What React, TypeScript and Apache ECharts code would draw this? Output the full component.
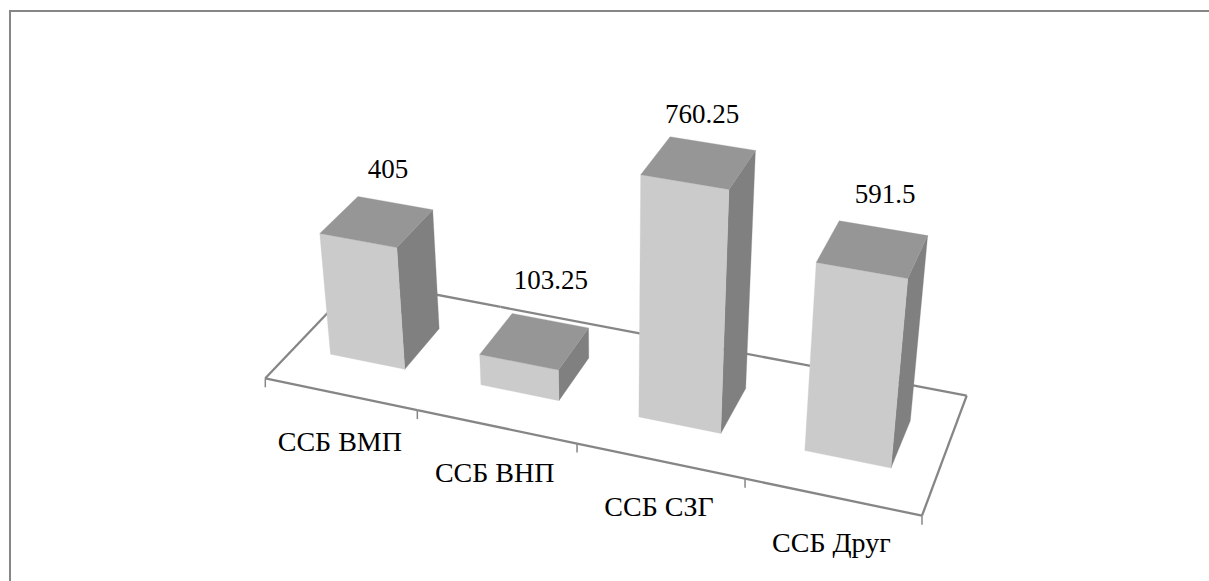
import React, { useEffect, useRef } from "react";
import * as echarts from "echarts";

const categories = ["ССБ ВМП", "ССБ ВНП", "ССБ СЗГ", "ССБ Друг"];
const values = [405, 103.25, 760.25, 591.5];
const valueLabels = ["405", "103.25", "760.25", "591.5"];

const W = 1209;
const H = 581;
const Y_MAX = 800;

// Perspective camera of the 3D plot: floor corners on screen + vertical vanishing point
const FL: [number, number] = [265.3, 378.3];
const FR: [number, number] = [922, 515.7];
const BR: [number, number] = [966.7, 395.7];
const BL: [number, number] = [359, 280];
const VP: [number, number] = [615, 3578];
const R_PER_UNIT = -9.1e-5;
const DEPTH = [0.3, 0.7];
const BAR_SHIFT = -0.002;

const dx1 = FR[0] - BR[0], dx2 = BL[0] - BR[0], sx = FL[0] - FR[0] + BR[0] - BL[0];
const dy1 = FR[1] - BR[1], dy2 = BL[1] - BR[1], sy = FL[1] - FR[1] + BR[1] - BL[1];
const det = dx1 * dy2 - dx2 * dy1;
const g = (sx * dy2 - dx2 * sy) / det;
const k = (dx1 * sy - sx * dy1) / det;
const a = FR[0] - FL[0] + g * FR[0], b = BL[0] - FL[0] + k * BL[0], c = FL[0];
const d = FR[1] - FL[1] + g * FR[1], e = BL[1] - FL[1] + k * BL[1], f = FL[1];

function project(s: number, t: number, v: number): number[] {
  const r = R_PER_UNIT * v;
  const den = g * s + k * t + 1 + r;
  return [(a * s + b * t + c + r * VP[0]) / den, (d * s + e * t + f + r * VP[1]) / den];
}

const FRONT = "#cbcbcb";
const TOP = "#969696";
const SIDE = "#808080";
const AXIS = "#868686";
const SERIF = '"Liberation Serif", serif';

// small hand offsets of the text relative to the projected bar top / floor tick
const VALUE_NUDGE = [[10, -53], [15, -61], [2, -49], [11, -55]];
const CATEGORY_POS = [[-0.5, 13], [-1.5, 12], [-1, 12], [-1, 12]];

export default function App() {
  const ref = useRef<HTMLDivElement>(null);
  useEffect(() => {
    const chart = echarts.init(ref.current!, undefined, { renderer: "svg" });

    const toModel = (api: any, i: number, v: number) => {
      const p = api.coord([i, v]);
      const w = api.size([1, 0])[0];
      return { s: p[0] / W, half: w / W / 4, h: ((H - p[1]) / H) * Y_MAX };
    };

    const renderBar = (_: any, api: any) => {
      const i = api.value(0);
      const v = api.value(1);
      const { s, half, h } = toModel(api, i, v);
      const s0 = s - half + BAR_SHIFT, s1 = s + half + BAR_SHIFT;
      const [t0, t1] = DEPTH;
      const poly = (pts: number[][], fill: string) => ({
        type: "polygon",
        shape: { points: pts },
        style: { fill, stroke: fill, lineWidth: 0.3 },
      });
      const ftl = project(s0, t0, h), ftr = project(s1, t0, h);
      const fbl = project(s0, t0, 0), fbr = project(s1, t0, 0);
      const btl = project(s0, t1, h), btr = project(s1, t1, h), bbr = project(s1, t1, 0);
      const top = project(s, 0.5, h);
      const nudge = VALUE_NUDGE[i];
      return {
        type: "group",
        children: [
          poly([ftr, btr, bbr, fbr], SIDE),
          poly([ftl, ftr, fbr, fbl], FRONT),
          poly([ftl, btl, btr, ftr], TOP),
          {
            type: "text",
            style: {
              x: top[0] + nudge[0],
              y: top[1] + nudge[1],
              text: valueLabels[i],
              font: `27px ${SERIF}`,
              fill: "#000",
              align: "center",
              verticalAlign: "middle",
            },
          },
        ],
      };
    };

    const renderFloor = (_: any, api: any) => {
      const i = api.value(0);
      const { s, half } = toModel(api, i, 0);
      const s0 = s - 2 * half, s1 = s + 2 * half;
      const children: any[] = [];
      const seg = (p: number[], q: number[], w: number) =>
        children.push({
          type: "line",
          shape: { x1: p[0], y1: p[1], x2: q[0], y2: q[1] },
          style: { stroke: AXIS, lineWidth: w },
        });
      seg(project(s0, 0, 0), project(s1, 0, 0), 2.3);
      seg(project(s0, 1, 0), project(s1, 1, 0), 2.3);
      if (i === 0) seg(project(0, 0, 0), project(0, 1, 0), 2.3);
      if (i === categories.length - 1) seg(project(1, 0, 0), project(1, 1, 0), 2.3);
      const tick = (sv: number) => {
        const p = project(sv, 0, 0);
        seg(p, [p[0], p[1] + 9], 1.5);
      };
      if (i === 0) tick(s0);
      tick(s1);
      const m = project(s, 0, 0);
      const n = CATEGORY_POS[i];
      children.push({
        type: "text",
        style: {
          x: m[0] + n[0],
          y: m[1] + 34 + n[1],
          text: categories[i],
          font: `28px ${SERIF}`,
          fill: "#000",
          align: "center",
          verticalAlign: "middle",
        },
      });
      return { type: "group", children };
    };

    const rows = values.map((v, i) => [i, v]);
    chart.setOption({
      animation: false,
      backgroundColor: "#fff",
      grid: { left: 0, right: 0, top: 0, bottom: 0, containLabel: false },
      xAxis: { type: "category", data: categories, show: false },
      yAxis: { type: "value", min: 0, max: Y_MAX, show: false },
      graphic: [
        {
          type: "rect",
          shape: { x: 10, y: 11, width: 1400, height: 800 },
          style: { fill: "none", stroke: AXIS, lineWidth: 2 },
          z: 0,
        },
      ],
      series: [
        { type: "custom", data: rows, clip: false, z: 2, renderItem: renderFloor, encode: { x: 0, y: 1 } },
        { type: "custom", data: rows, clip: false, z: 3, renderItem: renderBar, encode: { x: 0, y: 1 } },
      ],
    });
    return () => chart.dispose();
  }, []);
  return (
    <div
      ref={ref}
      style={{ position: "absolute", left: 0, top: 0, width: W, height: H }}
    />
  );
}
